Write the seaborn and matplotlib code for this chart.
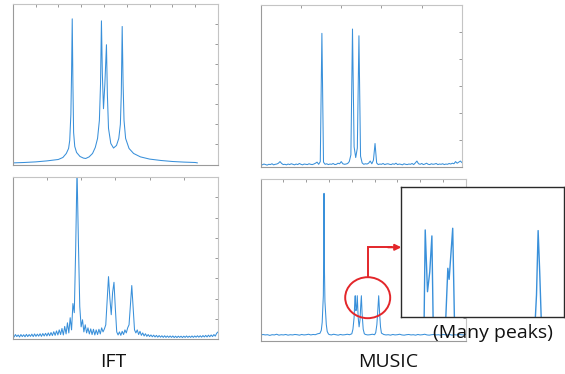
import numpy as np
import matplotlib
matplotlib.use("Agg")
import matplotlib.pyplot as plt
import seaborn as sns
from matplotlib.patches import Ellipse, FancyArrowPatch
from matplotlib.lines import Line2D

# ---------------- data ----------------
# Top-left: IFT spectrum (x 0..9, y 0..8)
ift_top_x = [0.0, 0.5, 1.0, 1.5, 2.0, 2.2, 2.35, 2.45, 2.5, 2.55, 2.58, 2.61, 2.64, 2.67,
             2.72, 2.8, 2.95, 3.1, 3.2, 3.35, 3.5, 3.62, 3.72, 3.8, 3.85, 3.89, 3.93, 3.98,
             4.04, 4.11, 4.15, 4.2, 4.3, 4.42, 4.55, 4.65, 4.72, 4.76, 4.8, 4.84, 4.88, 4.95,
             5.1, 5.3, 5.6, 6.0, 6.5, 7.0, 7.5, 8.0, 8.1]
ift_top_y = [0.08, 0.10, 0.13, 0.18, 0.25, 0.35, 0.55, 0.80, 1.20, 2.50, 4.50, 7.26, 4.00, 1.60,
             0.90, 0.60, 0.40, 0.32, 0.30, 0.38, 0.55, 0.85, 1.30, 2.20, 4.00, 7.16, 4.50, 2.78,
             4.00, 5.97, 3.50, 1.80, 1.05, 0.82, 0.95, 1.30, 2.00, 3.50, 6.88, 4.00, 2.20, 1.30,
             0.80, 0.55, 0.38, 0.27, 0.20, 0.15, 0.12, 0.10, 0.08]

# Top-right: MUSIC spectrum (x 0..5, sampled every 0.04; y 0..6)
music_top_y = [0.10, 0.08, 0.11, 0.09, 0.07, 0.10, 0.09, 0.12, 0.08, 0.10,
               0.11, 0.14, 0.20, 0.13, 0.09, 0.10, 0.08, 0.11, 0.09, 0.12,
               0.10, 0.08, 0.11, 0.09, 0.13, 0.10, 0.08, 0.11, 0.10, 0.09,
               0.12, 0.10, 0.09, 0.11, 0.14, 0.18, 0.10, 0.20, 4.95, 0.18,
               0.10, 0.12, 0.09, 0.11, 0.10, 0.13, 0.09, 0.10, 0.14, 0.12,
               0.20, 0.12, 0.10, 0.11, 0.13, 0.20, 0.45, 5.11, 0.75, 0.35,
               0.70, 4.86, 0.40, 0.15, 0.10, 0.12, 0.11, 0.14, 0.22, 0.12,
               0.25, 0.87, 0.15, 0.09, 0.11, 0.10, 0.13, 0.09, 0.11, 0.12,
               0.10, 0.09, 0.12, 0.10, 0.14, 0.09, 0.11, 0.10, 0.08, 0.12,
               0.10, 0.09, 0.11, 0.10, 0.13, 0.09, 0.15, 0.22, 0.12, 0.10,
               0.13, 0.09, 0.11, 0.14, 0.10, 0.09, 0.12, 0.10, 0.11, 0.13,
               0.09, 0.11, 0.10, 0.12, 0.09, 0.11, 0.10, 0.13, 0.11, 0.14,
               0.12, 0.20, 0.14, 0.18, 0.22, 0.16]

# Bottom-left: IFT spectrum with side-lobe ripple (x 0..6, sampled every 0.04; y 0..8)
ift_bot_y = [0.20, 0.10, 0.22, 0.12, 0.20, 0.10, 0.22, 0.12, 0.21, 0.11,
             0.23, 0.12, 0.22, 0.13, 0.24, 0.12, 0.25, 0.13, 0.24, 0.14,
             0.26, 0.13, 0.27, 0.15, 0.28, 0.15, 0.30, 0.16, 0.32, 0.17,
             0.36, 0.18, 0.40, 0.20, 0.45, 0.22, 0.52, 0.20, 0.62, 0.25,
             0.80, 0.30, 1.05, 0.45, 1.75, 1.30, 4.40, 8.40, 4.80, 1.60,
             0.60, 0.95, 0.35, 0.70, 0.30, 0.55, 0.25, 0.50, 0.22, 0.48,
             0.20, 0.45, 0.22, 0.48, 0.25, 0.55, 0.35, 0.50, 0.70, 1.90,
             3.08, 2.00, 1.20, 2.30, 2.80, 1.50, 0.35, 0.20, 0.35, 0.18,
             0.38, 0.22, 0.45, 0.30, 0.55, 0.70, 1.70, 2.64, 1.50, 0.45,
             0.30, 0.45, 0.22, 0.38, 0.18, 0.30, 0.15, 0.26, 0.13, 0.22,
             0.12, 0.20, 0.11, 0.19, 0.10, 0.18, 0.09, 0.17, 0.09, 0.16,
             0.08, 0.16, 0.08, 0.15, 0.08, 0.15, 0.08, 0.15, 0.07, 0.14,
             0.07, 0.14, 0.08, 0.14, 0.07, 0.14, 0.08, 0.15, 0.08, 0.14,
             0.08, 0.15, 0.08, 0.15, 0.09, 0.16, 0.09, 0.16, 0.09, 0.17,
             0.10, 0.18, 0.10, 0.19, 0.11, 0.20, 0.12, 0.22, 0.14, 0.28,
             0.35]

# Bottom-right: MUSIC spectrum (x 0..9, y 0..7)
music_bot_x = [0.0, 0.1, 0.2, 0.3, 0.4, 0.5, 0.6, 0.7, 0.8, 0.9, 1.0, 1.1, 1.2, 1.3, 1.4,
               1.5, 1.6, 1.7, 1.8, 1.9, 2.0, 2.1, 2.2, 2.3, 2.4, 2.5,
               2.6, 2.66, 2.70, 2.73, 2.75, 2.765, 2.78, 2.80, 2.82, 2.85, 2.88, 2.92, 2.97,
               3.0, 3.1, 3.2, 3.3, 3.4, 3.5, 3.6, 3.7, 3.8, 3.9,
               4.0, 4.05, 4.10, 4.13, 4.15, 4.18, 4.21, 4.24, 4.28, 4.32, 4.36, 4.39, 4.42,
               4.45, 4.50, 4.55,
               4.6, 4.7, 4.8, 4.9, 5.0,
               5.05, 5.10, 5.14, 5.18, 5.22, 5.26, 5.30,
               5.4, 5.5, 5.6, 5.7, 5.8, 5.9, 6.0, 6.1, 6.2, 6.3, 6.4, 6.5, 6.6, 6.7, 6.8,
               6.9, 7.0, 7.1, 7.2, 7.3, 7.4, 7.5, 7.6, 7.7, 7.8, 7.9, 8.0, 8.1, 8.2, 8.3,
               8.4, 8.5, 8.6, 8.7, 8.8, 8.9, 9.0]
music_bot_y = [0.24, 0.27, 0.25, 0.26, 0.23, 0.26, 0.25, 0.28, 0.24, 0.26, 0.25, 0.27, 0.24,
               0.26, 0.25, 0.27, 0.26, 0.24, 0.27, 0.25, 0.26, 0.28, 0.25, 0.27, 0.26, 0.30,
               0.32, 0.45, 0.80, 1.50, 1.95, 3.50, 6.39, 3.00, 1.70, 1.20, 0.70, 0.40, 0.30,
               0.27, 0.25, 0.28, 0.26, 0.24, 0.27, 0.25, 0.26, 0.28, 0.26,
               0.30, 0.50, 1.00, 1.70, 1.95, 1.30, 1.40, 1.95, 1.00, 0.60, 0.90, 1.50, 1.95,
               1.20, 0.50, 0.30,
               0.27, 0.25, 0.26, 0.28, 0.26,
               0.35, 0.70, 1.30, 1.95, 1.20, 0.60, 0.33,
               0.27, 0.25, 0.26, 0.24, 0.27, 0.25, 0.26, 0.28, 0.25, 0.24, 0.26, 0.27, 0.25,
               0.26, 0.24, 0.27, 0.25, 0.26, 0.28, 0.25, 0.24, 0.26, 0.27, 0.25, 0.26, 0.24,
               0.27, 0.26, 0.25, 0.27, 0.24, 0.26, 0.25, 0.27, 0.26, 0.25, 0.28]

# Inset: zoom on the MUSIC cluster (x 0..1, y 0..1, base clipped)
inset_x = [0.0, 0.140, 0.147, 0.161, 0.175, 0.188, 0.196, 0.230, 0.272, 0.286, 0.294,
           0.316, 0.327, 0.600, 0.822, 0.831, 0.841, 0.851, 0.861, 1.0]
inset_y = [-0.10, -0.05, 0.672, 0.197, 0.350, 0.626, -0.05, -0.10, -0.05, 0.377, 0.292,
           0.685, -0.05, -0.10, -0.05, 0.172, 0.667, 0.338, -0.05, -0.10]

labels = ["IFT", "MUSIC", "(Many peaks)"]

# ---------------- styling ----------------
BLUE = "#3990da"
sns.set_style("white")
plt.rcParams["font.family"] = ["Open Sans", "DejaVu Sans"]

W, H = 565, 374
fig = plt.figure(figsize=(W / 100, H / 100), dpi=100)


def px_axes(x0, y0, x1, y1):
    return fig.add_axes([x0 / W, 1 - y1 / H, (x1 - x0) / W, (y1 - y0) / H])


def style(ax, xmax, nx, ymax, ny):
    ax.set_xlim(0, xmax)
    ax.set_ylim(0, ymax)
    ax.set_xticks(np.linspace(0, xmax, nx + 1))
    ax.set_yticks(np.linspace(0, ymax, ny + 1))
    ax.tick_params(direction="in", length=2.2, width=0.6, colors="#8a8a8a",
                   top=True, right=True, labelbottom=False, labelleft=False)
    ax.set_xlabel("")
    ax.set_ylabel("")
    for s in ("left", "bottom"):
        ax.spines[s].set_color("#9a9a9a")
        ax.spines[s].set_linewidth(0.8)
    for s in ("top", "right"):
        ax.spines[s].set_color("#c4c4c4")
        ax.spines[s].set_linewidth(0.8)
    if ax.get_legend():
        ax.get_legend().remove()


axA = px_axes(12.7, 4, 218, 164.5)
sns.lineplot(x=ift_top_x, y=ift_top_y, ax=axA, color=BLUE, lw=0.75, estimator=None, sort=False)
style(axA, 9, 9, 8, 8)

axB = px_axes(260.7, 5, 462, 167)
xb = np.linspace(0, 5, len(music_top_y))
sns.lineplot(x=xb, y=music_top_y, ax=axB, color=BLUE, lw=0.75, estimator=None, sort=False)
style(axB, 5, 5, 6, 6)

axC = px_axes(12.7, 177, 218, 339)
xc = np.linspace(0, 6, len(ift_bot_y))
sns.lineplot(x=xc, y=ift_bot_y, ax=axC, color=BLUE, lw=0.75, estimator=None, sort=False)
style(axC, 6, 6, 8, 8)

axD = px_axes(260.7, 179.3, 465.7, 340.7)
sns.lineplot(x=music_bot_x, y=music_bot_y, ax=axD, color=BLUE, lw=0.75, estimator=None, sort=False)
style(axD, 9, 9, 7, 7)

axI = px_axes(401.3, 187.3, 564, 317.3)
axI.set_zorder(5)
axI.set_facecolor("white")
sns.lineplot(x=inset_x, y=inset_y, ax=axI, color=BLUE, lw=1.0, estimator=None, sort=False)
axI.set_xlim(0, 1)
axI.set_ylim(0, 1)
axI.set_xticks([])
axI.set_yticks([])
axI.set_xlabel("")
axI.set_ylabel("")
for s in axI.spines.values():
    s.set_color("#2a2a2a")
    s.set_linewidth(1.0)

# red circle + elbow arrow
RED = "#e3262a"
fig.add_artist(Ellipse((367.7 / W, 1 - 297.7 / H), 45 / W, 41 / H, transform=fig.transFigure,
                       fill=False, ec=RED, lw=1.4, zorder=10))
fig.add_artist(Line2D([367.7 / W, 367.7 / W, 392 / W], [1 - 277 / H, 1 - 247.3 / H, 1 - 247.3 / H],
                      transform=fig.transFigure, color=RED, lw=1.4, zorder=10,
                      solid_joinstyle="miter"))
fig.add_artist(FancyArrowPatch((388 / W, 1 - 247.3 / H), (401.3 / W, 1 - 247.3 / H),
                               transform=fig.transFigure, arrowstyle="-|>", color=RED,
                               lw=1.4, mutation_scale=9, shrinkA=0, shrinkB=0, zorder=11))

fig.text(113.5 / W, 1 - 367.3 / H, labels[0], ha="center", va="baseline", fontsize=14, color="#111111")
fig.text(388 / W, 1 - 367.3 / H, labels[1], ha="center", va="baseline", fontsize=14, color="#111111")
fig.text(493.3 / W, 1 - 338.3 / H, labels[2], ha="center", va="baseline", fontsize=14,
         color="#111111", zorder=12)

fig.savefig("out.png", dpi=100)
